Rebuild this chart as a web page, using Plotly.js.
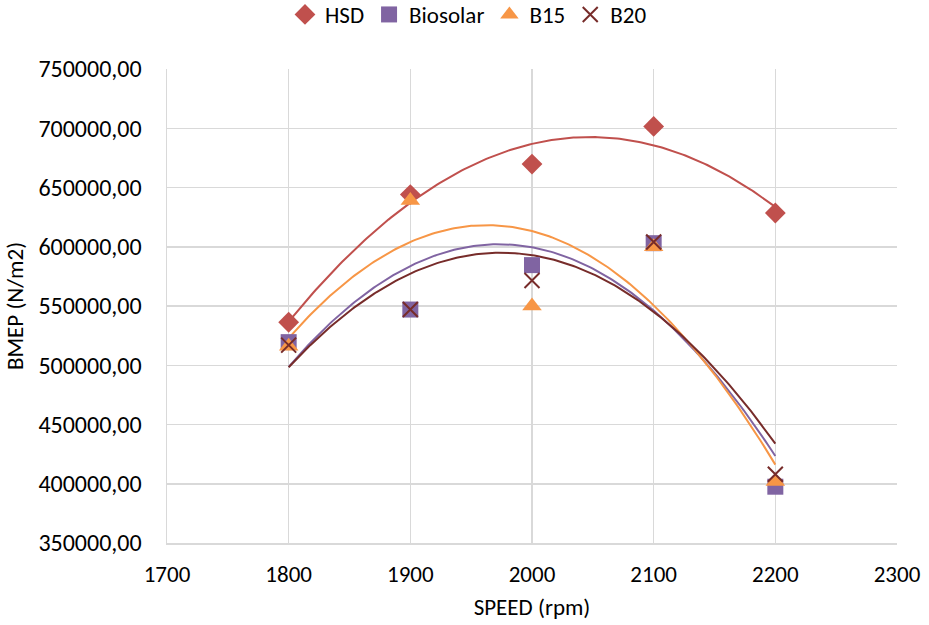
<!DOCTYPE html>
<html>
<head>
<meta charset="utf-8">
<script src="https://cdn.plot.ly/plotly-3.0.1.min.js"></script>
<style>html,body{margin:0;padding:0;background:#fff;}#chart{width:929px;height:625px;}</style>
</head>
<body>
<div id="chart"></div>
<script>
// Engine speed (rpm) and BMEP (N/m2) per fuel
const speed = [1800, 1900, 2000, 2100, 2200];
const hsd = [536300, 644000, 669800, 701500, 628500];
const biosolar = [519500, 547000, 584500, 603000, 397500];
const b15 = [516000, 639000, 550000, 600000, 402000];
const b20 = [517000, 547000, 571500, 604000, 408000];

const names = ['HSD', 'Biosolar', 'B15', 'B20'];
const colors = ['#C0504D', '#8064A2', '#F79646', '#772C2A'];
const symbols = ['diamond', 'square', 'triangle-up', 'x-thin-open'];
const sizes = [16, 16, 17, 15];

// Least-squares quadratic fit (second-order polynomial trendline)
function quadFit(xs, ys) {
  let S = [0, 0, 0, 0, 0], T = [0, 0, 0];
  for (let i = 0; i < xs.length; i++) {
    const x = xs[i], y = ys[i];
    let p = 1;
    for (let k = 0; k < 5; k++) { S[k] += p; if (k < 3) T[k] += p * y; p *= x; }
  }
  const A = [[S[0], S[1], S[2], T[0]], [S[1], S[2], S[3], T[1]], [S[2], S[3], S[4], T[2]]];
  for (let c = 0; c < 3; c++) {
    let piv = c;
    for (let r = c + 1; r < 3; r++) if (Math.abs(A[r][c]) > Math.abs(A[piv][c])) piv = r;
    [A[c], A[piv]] = [A[piv], A[c]];
    for (let r = 0; r < 3; r++) {
      if (r === c) continue;
      const f = A[r][c] / A[c][c];
      for (let k = c; k < 4; k++) A[r][k] -= f * A[c][k];
    }
  }
  return [A[0][3] / A[0][0], A[1][3] / A[1][1], A[2][3] / A[2][2]];
}

const seriesData = [hsd, biosolar, b15, b20];
const traces = [];
const x0 = speed[0], x1 = speed[speed.length - 1];

// Trendlines first so markers sit on top
seriesData.forEach((ys, i) => {
  const xc = speed.map(v => (v - 2000) / 100);
  const c = quadFit(xc, ys);
  const tx = [], ty = [];
  for (let j = 0; j <= 200; j++) {
    const xv = x0 + (x1 - x0) * j / 200;
    const t = (xv - 2000) / 100;
    tx.push(xv);
    ty.push(c[0] + c[1] * t + c[2] * t * t);
  }
  traces.push({
    x: tx, y: ty, mode: 'lines', type: 'scatter', showlegend: false, hoverinfo: 'skip',
    line: { color: colors[i], width: 2 }
  });
});

seriesData.forEach((ys, i) => {
  const isX = symbols[i].startsWith('x');
  traces.push({
    x: speed, y: ys, name: names[i], mode: 'markers', type: 'scatter',
    marker: {
      symbol: symbols[i], size: sizes[i], color: colors[i],
      line: isX ? { color: colors[i], width: 2 } : { width: 0 }
    }
  });
});

const gridColor = '#D9D9D9';
const layout = {
  width: 929, height: 625,
  margin: { l: 167, r: 32, t: 69, b: 82, autoexpand: false },
  paper_bgcolor: '#fff', plot_bgcolor: '#fff',
  separators: ',.',
  font: { family: 'Carlito, Calibri, Lato, sans-serif', size: 24, color: '#000' },
  showlegend: true,
  legend: {
    orientation: 'h', x: 0.413, xanchor: 'center', y: 1.115, yanchor: 'middle',
    font: { size: 23 }, itemwidth: 30, tracegroupgap: 0, traceorder: 'normal'
  },
  xaxis: {
    range: [1700, 2300], dtick: 100, tick0: 1700,
    showgrid: true, gridcolor: gridColor, gridwidth: 1.5,
    showline: true, linecolor: gridColor, linewidth: 1.5,
    zeroline: false, ticks: '', ticklabelstandoff: 10,
    tickfont: { size: 23 },
    title: { text: 'SPEED (rpm)', font: { size: 23 }, standoff: 12 }
  },
  yaxis: {
    range: [350000, 750000], dtick: 50000, tick0: 350000,
    tickformat: '.2f',
    showgrid: true, gridcolor: gridColor, gridwidth: 1.5,
    showline: true, linecolor: gridColor, linewidth: 1.5,
    zeroline: false, ticks: '', ticklabelstandoff: 19,
    tickfont: { size: 24 },
    title: { text: 'BMEP (N/m2)', font: { size: 23 }, standoff: 8 }
  }
};

Plotly.newPlot('chart', traces, layout, { displayModeBar: false, staticPlot: true });
</script>
</body>
</html>
